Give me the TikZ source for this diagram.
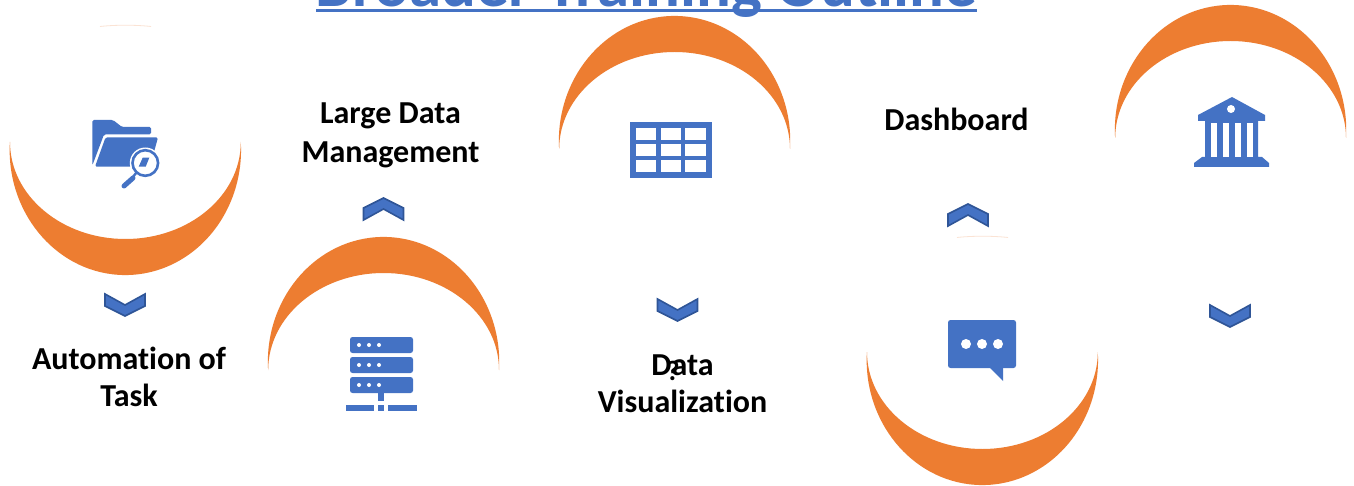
\documentclass[tikz,border=0pt]{standalone}
\usepackage{fontspec}
\setmainfont{Carlito}[Ligatures=CommonOff]
\definecolor{iconblue}{HTML}{4472C4}
\definecolor{chevedge}{HTML}{2F5597}
\definecolor{moon}{HTML}{ED7D31}
\definecolor{faint}{HTML}{FBE3D4}
\tikzset{
  lbl/.style={font=\bfseries\fontsize{32}{37}\selectfont,text=black,align=center,inner sep=0pt},
  icon/.style={fill=iconblue,draw=none},
  hole/.style={fill=white,draw=none},
  chev/.style={fill=iconblue,draw=chevedge,line width=1.6pt,line join=miter},
}
% #1 centre x, #2 y of the tips; crescent bulging down
\newcommand{\moondown}[2]{%
  \fill[moon] (#1-115.4,#2) arc[start angle=183.7,end angle=-3.7,x radius=115.7,y radius=125]
    arc[start angle=0,end angle=180,x radius=115.4,y radius=97] -- cycle;}
\newcommand{\moonup}[2]{%
  \fill[moon] (#1-115.4,#2) arc[start angle=183.7,end angle=-3.7,x radius=115.7,y radius=-125]
    arc[start angle=0,end angle=180,x radius=115.4,y radius=-97] -- cycle;}
% #1 centre x, #2 top y
\newcommand{\chevdown}[2]{%
  \draw[chev] (#1-20,#2) -- (#1,#2+11) -- (#1+20,#2) -- (#1+20,#2+12) -- (#1,#2+22) -- (#1-20,#2+12) -- cycle;}
\newcommand{\chevup}[2]{%
  \draw[chev] (#1-20,#2+22) -- (#1,#2+11) -- (#1+20,#2+22) -- (#1+20,#2+10) -- (#1,#2) -- (#1-20,#2+10) -- cycle;}
\begin{document}
\begin{tikzpicture}[x=1pt,y=-1pt]
\useasboundingbox (0,0) rectangle (1354,486);
\clip (0,0) rectangle (1354,486);
\fill[white] (0,0) rectangle (1354,486);
% title
\node[anchor=base,inner sep=0pt,text=iconblue,font=\bfseries\fontsize{65}{65}\selectfont] (title) at (646.5,7) {Broader Training Outline};
\fill[iconblue] (316,9) rectangle (977,12.5);
% crescents
\moondown{125.3}{142}
\moonup{383.5}{370}
\moonup{674.5}{149}
\moondown{982.3}{352}
\moonup{1230.5}{138}
% faint slivers
\draw[faint,line width=.8pt] (100,26.5) .. controls (115,24.8) and (136,24.8) .. (151,26.5);
\draw[faint,line width=.8pt] (957,237.5) .. controls (972,235.8) and (993,235.8) .. (1008,237.5);
% chevrons
\chevdown{125}{294}
\chevup{383.5}{198}
\chevdown{677.5}{299}
\chevup{968}{204}
\chevdown{1230}{305}
% labels
\node[lbl,anchor=base] (auto1) at (129,369) {Automation of};
\node[lbl,anchor=base] (auto2) at (129,406) {Task};
\node[lbl,anchor=base] (large1) at (390.5,124) {Large Data};
\node[lbl,anchor=base] (large2) at (390.5,163) {Management};
\node[lbl,anchor=base] (dash) at (956.5,131) {Dashboard};
\node[lbl,anchor=base] (data1) at (682.5,375) {Data};
\node[lbl,anchor=base] (data2) at (682.5,412.5) {Visualization};
\node[anchor=base,inner sep=0pt,font=\bfseries\fontsize{28}{28}\selectfont] (qm) at (673,380) {?};
% folder icon
\fill[icon,rounded corners=1.5pt] (92.3,165.5) -- (92.3,120) -- (113,120) -- (122,127) -- (151,127) -- (151,134.5) -- (104,134.5) -- cycle;
\fill[icon,rounded corners=1.5pt] (95,166.7) -- (105.5,137.5) -- (158,137.5) -- (150,166.7) -- cycle;
\fill[white] (145.3,163) circle (15.5);
\draw[iconblue,line width=2.6pt] (145.3,163) circle (12.8);
\fill[icon] (138.7,166.7) -- (142.7,157.7) -- (149.3,157.7) -- (145.7,166.7) -- cycle;
\draw[iconblue,line width=5pt,line cap=round] (124,186) -- (133,178);
\draw[iconblue,line width=2.4pt] (132,178) -- (137,172);
% server icon
\foreach \yy in {337,357,377}{
  \fill[icon,rounded corners=2.5pt] (350,\yy) rectangle (413,\yy+16);
  \foreach \xx in {359,369,379} \fill[white] (\xx,\yy+8) circle (2);
}
\fill[icon] (378,393) rectangle (384,401);
\fill[icon] (346,405) rectangle (374,411);
\fill[icon] (378,405) rectangle (384,411);
\fill[icon] (388,405) rectangle (417,411);
% table icon
\fill[icon] (629.5,122) rectangle (712,178);
\foreach \yy/\yb in {128/140,144/156,160/172}{
  \foreach \xx/\xb in {635.5/656,660.5/681,684.5/705.5}
    \fill[white] (\xx,\yy) rectangle (\xb,\yb);
}
% bubble icon
\fill[icon,rounded corners=2.5pt] (948,320) rectangle (1016,368);
\fill[icon] (989,367) -- (1003,381) -- (1003,367) -- cycle;
\foreach \xx in {966,982,998} \fill[white] (\xx,344) circle (5);
% bank icon
\fill[icon] (1232,97) -- (1265,115) -- (1265,121) -- (1258,121) -- (1258,157) -- (1262,157) -- (1269,163) -- (1269,167) -- (1194,167) -- (1194,163) -- (1202,157) -- (1205,157) -- (1205,121) -- (1198,121) -- (1198,115) -- cycle;
\fill[white] (1231,109) circle (4);
\foreach \xx in {1211,1223,1235,1247} \fill[white] (\xx,123) rectangle (\xx+6.3,157);
\end{tikzpicture}
\end{document}
